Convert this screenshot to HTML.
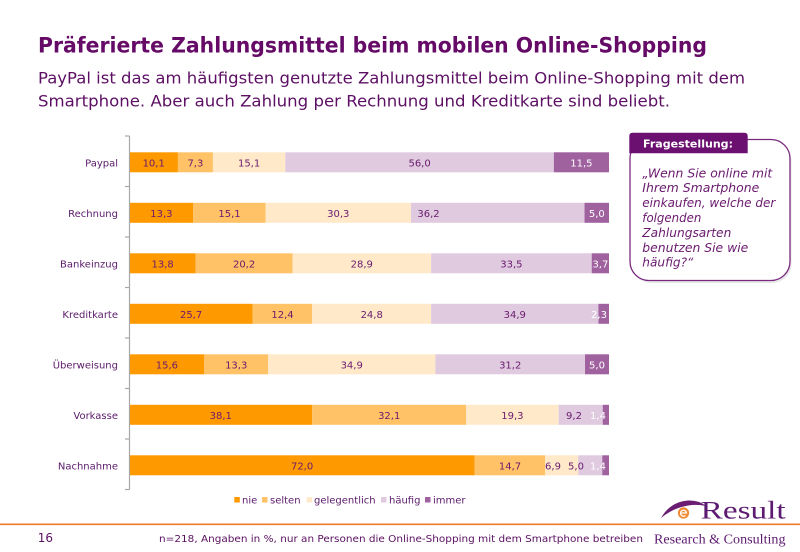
<!DOCTYPE html>
<html>
<head>
<meta charset="utf-8">
<style>
html,body{margin:0;padding:0;background:#fff;}
svg{display:block;}
text{font-family:"DejaVu Sans","Liberation Sans",sans-serif;}
.v{font-size:10px;fill:#6a1a6e;text-anchor:middle;}
.w{font-size:10px;fill:#ffffff;text-anchor:middle;}
.c{font-size:10px;fill:#5a1a6a;text-anchor:end;}
.l{font-size:10px;fill:#5a1a6a;}
.q{font-size:12px;font-style:italic;fill:#6a1a6e;}
.serif{font-family:"Liberation Serif",serif;fill:#5c1a70;}
</style>
</head>
<body>
<svg width="800" height="552" viewBox="0 0 800 552" xmlns="http://www.w3.org/2000/svg">
<rect width="800" height="552" fill="#fff"/>

<!-- Title -->
<text x="38" y="52.3" font-size="21.5" font-weight="bold" fill="#650a67" textLength="669" lengthAdjust="spacingAndGlyphs">Präferierte Zahlungsmittel beim mobilen Online-Shopping</text>
<text x="38" y="83.3" font-size="16" fill="#5c0f63" textLength="707" lengthAdjust="spacingAndGlyphs">PayPal ist das am häufigsten genutzte Zahlungsmittel beim Online-Shopping mit dem</text>
<text x="38" y="106.7" font-size="16" fill="#5c0f63" textLength="632" lengthAdjust="spacingAndGlyphs">Smartphone. Aber auch Zahlung per Rechnung und Kreditkarte sind beliebt.</text>

<!-- Axis -->
<g stroke="#a8a8a8" stroke-width="1.2" fill="none">
<line x1="129.5" y1="136" x2="129.5" y2="489.5"/>
<line x1="125" y1="136" x2="129.5" y2="136"/>
<line x1="125" y1="186.5" x2="129.5" y2="186.5"/>
<line x1="125" y1="237" x2="129.5" y2="237"/>
<line x1="125" y1="287.5" x2="129.5" y2="287.5"/>
<line x1="125" y1="338" x2="129.5" y2="338"/>
<line x1="125" y1="388.5" x2="129.5" y2="388.5"/>
<line x1="125" y1="439" x2="129.5" y2="439"/>
<line x1="125" y1="489.5" x2="129.5" y2="489.5"/>
</g>

<!-- Category labels -->
<text class="c" x="118" y="166.3">Paypal</text>
<text class="c" x="118" y="216.8">Rechnung</text>
<text class="c" x="118" y="267.3">Bankeinzug</text>
<text class="c" x="118" y="317.8">Kreditkarte</text>
<text class="c" x="118" y="368.3">Überweisung</text>
<text class="c" x="118" y="418.8">Vorkasse</text>
<text class="c" x="118" y="469.3">Nachnahme</text>

<!-- Paypal -->
<g transform="translate(0,152.3)">
<rect x="130" y="0" width="47.93" height="20" fill="#ff9900"/>
<rect x="177.93" y="0" width="35" height="20" fill="#ffc266"/>
<rect x="212.93" y="0" width="72.4" height="20" fill="#ffe9c9"/>
<rect x="285.33" y="0" width="268.52" height="20" fill="#dfcadf"/>
<rect x="553.85" y="0" width="55.15" height="20" fill="#a0619f"/>
<text class="v" x="153.7" y="14">10,1</text>
<text class="v" x="195.4" y="14">7,3</text>
<text class="v" x="249.1" y="14">15,1</text>
<text class="v" x="419.6" y="14">56,0</text>
<text class="w" x="581.4" y="14">11,5</text>
</g>
<!-- Rechnung -->
<g transform="translate(0,202.8)">
<rect x="130" y="0" width="63.27" height="20" fill="#ff9900"/>
<rect x="193.27" y="0" width="72.4" height="20" fill="#ffc266"/>
<rect x="265.67" y="0" width="145.29" height="20" fill="#ffe9c9"/>
<rect x="410.96" y="0" width="173.58" height="20" fill="#dfcadf"/>
<rect x="584.54" y="0" width="24.46" height="20" fill="#a0619f"/>
<text class="v" x="161.4" y="14">13,3</text>
<text class="v" x="229.5" y="14">15,1</text>
<text class="v" x="338.3" y="14">30,3</text>
<text class="v" x="428.5" y="14">36,2</text>
<text class="w" x="596.8" y="14">5,0</text>
</g>
<!-- Bankeinzug -->
<g transform="translate(0,253.3)">
<rect x="130" y="0" width="65.67" height="20" fill="#ff9900"/>
<rect x="195.67" y="0" width="96.86" height="20" fill="#ffc266"/>
<rect x="292.53" y="0" width="138.58" height="20" fill="#ffe9c9"/>
<rect x="431.11" y="0" width="160.63" height="20" fill="#dfcadf"/>
<rect x="591.74" y="0" width="17.26" height="20" fill="#a0619f"/>
<text class="v" x="162.6" y="14">13,8</text>
<text class="v" x="244.1" y="14">20,2</text>
<text class="v" x="361.8" y="14">28,9</text>
<text class="v" x="511.4" y="14">33,5</text>
<text class="w" x="600.4" y="14">3,7</text>
</g>
<!-- Kreditkarte -->
<g transform="translate(0,303.8)">
<rect x="130" y="0" width="122.73" height="20" fill="#ff9900"/>
<rect x="252.73" y="0" width="59.46" height="20" fill="#ffc266"/>
<rect x="312.19" y="0" width="118.92" height="20" fill="#ffe9c9"/>
<rect x="431.11" y="0" width="167.35" height="20" fill="#dfcadf"/>
<rect x="598.46" y="0" width="10.54" height="20" fill="#a0619f"/>
<text class="v" x="191.1" y="14">25,7</text>
<text class="v" x="282.5" y="14">12,4</text>
<text class="v" x="371.7" y="14">24,8</text>
<text class="v" x="514.8" y="14">34,9</text>
<text class="w" x="599" y="14">2,3</text>
</g>
<!-- Überweisung -->
<g transform="translate(0,354.3)">
<rect x="130" y="0" width="74.3" height="20" fill="#ff9900"/>
<rect x="204.3" y="0" width="63.77" height="20" fill="#ffc266"/>
<rect x="268.07" y="0" width="167.35" height="20" fill="#ffe9c9"/>
<rect x="435.42" y="0" width="149.6" height="20" fill="#dfcadf"/>
<rect x="585.02" y="0" width="23.98" height="20" fill="#a0619f"/>
<text class="v" x="166.9" y="14">15,6</text>
<text class="v" x="236.2" y="14">13,3</text>
<text class="v" x="351.7" y="14">34,9</text>
<text class="v" x="510.2" y="14">31,2</text>
<text class="w" x="597" y="14">5,0</text>
</g>
<!-- Vorkasse -->
<g transform="translate(0,404.8)">
<rect x="130" y="0" width="182.19" height="20" fill="#ff9900"/>
<rect x="312.19" y="0" width="153.92" height="20" fill="#ffc266"/>
<rect x="466.11" y="0" width="92.54" height="20" fill="#ffe9c9"/>
<rect x="558.65" y="0" width="44.11" height="20" fill="#dfcadf"/>
<rect x="602.76" y="0" width="6.24" height="20" fill="#a0619f"/>
<text class="v" x="220.8" y="14">38,1</text>
<text class="v" x="389.2" y="14">32,1</text>
<text class="v" x="512.4" y="14">19,3</text>
<text class="v" x="574" y="14">9,2</text>
<text class="w" x="598" y="14">1,4</text>
</g>
<!-- Nachnahme -->
<g transform="translate(0,455.3)">
<rect x="130" y="0" width="344.74" height="20" fill="#ff9900"/>
<rect x="474.74" y="0" width="70.49" height="20" fill="#ffc266"/>
<rect x="545.23" y="0" width="33.09" height="20" fill="#ffe9c9"/>
<rect x="578.32" y="0" width="23.98" height="20" fill="#dfcadf"/>
<rect x="602.3" y="0" width="6.7" height="20" fill="#a0619f"/>
<text class="v" x="302.1" y="14">72,0</text>
<text class="v" x="510" y="14">14,7</text>
<text class="v" x="553" y="14">6,9</text>
<text class="v" x="576" y="14">5,0</text>
<text class="w" x="598" y="14">1,4</text>
</g>

<!-- Legend -->
<rect x="234.3" y="497" width="5.5" height="5.5" fill="#ff9900"/>
<text class="l" x="242" y="503.3">nie</text>
<rect x="262" y="497" width="5.5" height="5.5" fill="#ffc266"/>
<text class="l" x="270" y="503.3">selten</text>
<rect x="306.7" y="497" width="5.5" height="5.5" fill="#ffe9c9"/>
<text class="l" x="314" y="503.3">gelegentlich</text>
<rect x="381" y="497" width="5.5" height="5.5" fill="#dfcadf"/>
<text class="l" x="389" y="503.3">häufig</text>
<rect x="425" y="497" width="5.5" height="5.5" fill="#a0619f"/>
<text class="l" x="433" y="503.3">immer</text>

<!-- Question box -->
<rect x="631.5" y="142" width="160" height="141" rx="19" ry="19" fill="#d8d8d8" opacity="0.6"/>
<rect x="630" y="139.5" width="160" height="141" rx="19" ry="19" fill="#fff" stroke="#7a2a7e" stroke-width="1.3"/>
<path d="M629.3,153.3 L629.3,136 Q629.3,132.7 632.6,132.7 L744.4,132.7 Q747.7,132.7 747.7,136 L747.7,153.3 Z" fill="#6b1070"/>
<text x="643" y="147.3" font-size="11" font-weight="bold" fill="#fff" textLength="90" lengthAdjust="spacingAndGlyphs">Fragestellung:</text>
<text class="q" x="642.3" y="177.3" textLength="130" lengthAdjust="spacingAndGlyphs">„Wenn Sie online mit</text>
<text class="q" x="642.3" y="192.2" textLength="117" lengthAdjust="spacingAndGlyphs">Ihrem Smartphone</text>
<text class="q" x="642.3" y="207.1" textLength="133" lengthAdjust="spacingAndGlyphs">einkaufen, welche der</text>
<text class="q" x="642.3" y="222" textLength="59" lengthAdjust="spacingAndGlyphs">folgenden</text>
<text class="q" x="642.3" y="236.9" textLength="89" lengthAdjust="spacingAndGlyphs">Zahlungsarten</text>
<text class="q" x="642.3" y="251.8" textLength="106" lengthAdjust="spacingAndGlyphs">benutzen Sie wie</text>
<text class="q" x="642.3" y="266.7" textLength="51" lengthAdjust="spacingAndGlyphs">häufig?“</text>

<!-- Footer -->
<line x1="0" y1="524.3" x2="800" y2="524.3" stroke="#f07a2a" stroke-width="1.6"/>
<text x="37.7" y="542" font-size="12" fill="#5a1060">16</text>
<text x="159" y="542" font-size="10" fill="#5a1060" textLength="484" lengthAdjust="spacingAndGlyphs">n=218, Angaben in %, nur an Personen die Online-Shopping mit dem Smartphone betreiben</text>

<!-- Logo -->
<path d="M661,518 Q670,502 688,500.5 Q699,500 706,506 Q697,504 688,505.5 Q673,508 661,518 Z" fill="#6b1d72"/>
<circle cx="683.5" cy="513" r="5.6" fill="#f08a30"/>
<path d="M680.5,513 L686.5,513 A3,3 0 1 0 685.5,515.5" fill="none" stroke="#fff" stroke-width="1.3"/>
<text class="serif" x="700.7" y="518.3" font-size="25" textLength="85" lengthAdjust="spacingAndGlyphs">Result</text>
<text class="serif" x="654" y="543.3" font-size="14" textLength="131.5" lengthAdjust="spacingAndGlyphs">Research &amp; Consulting</text>
</svg>
</body>
</html>
